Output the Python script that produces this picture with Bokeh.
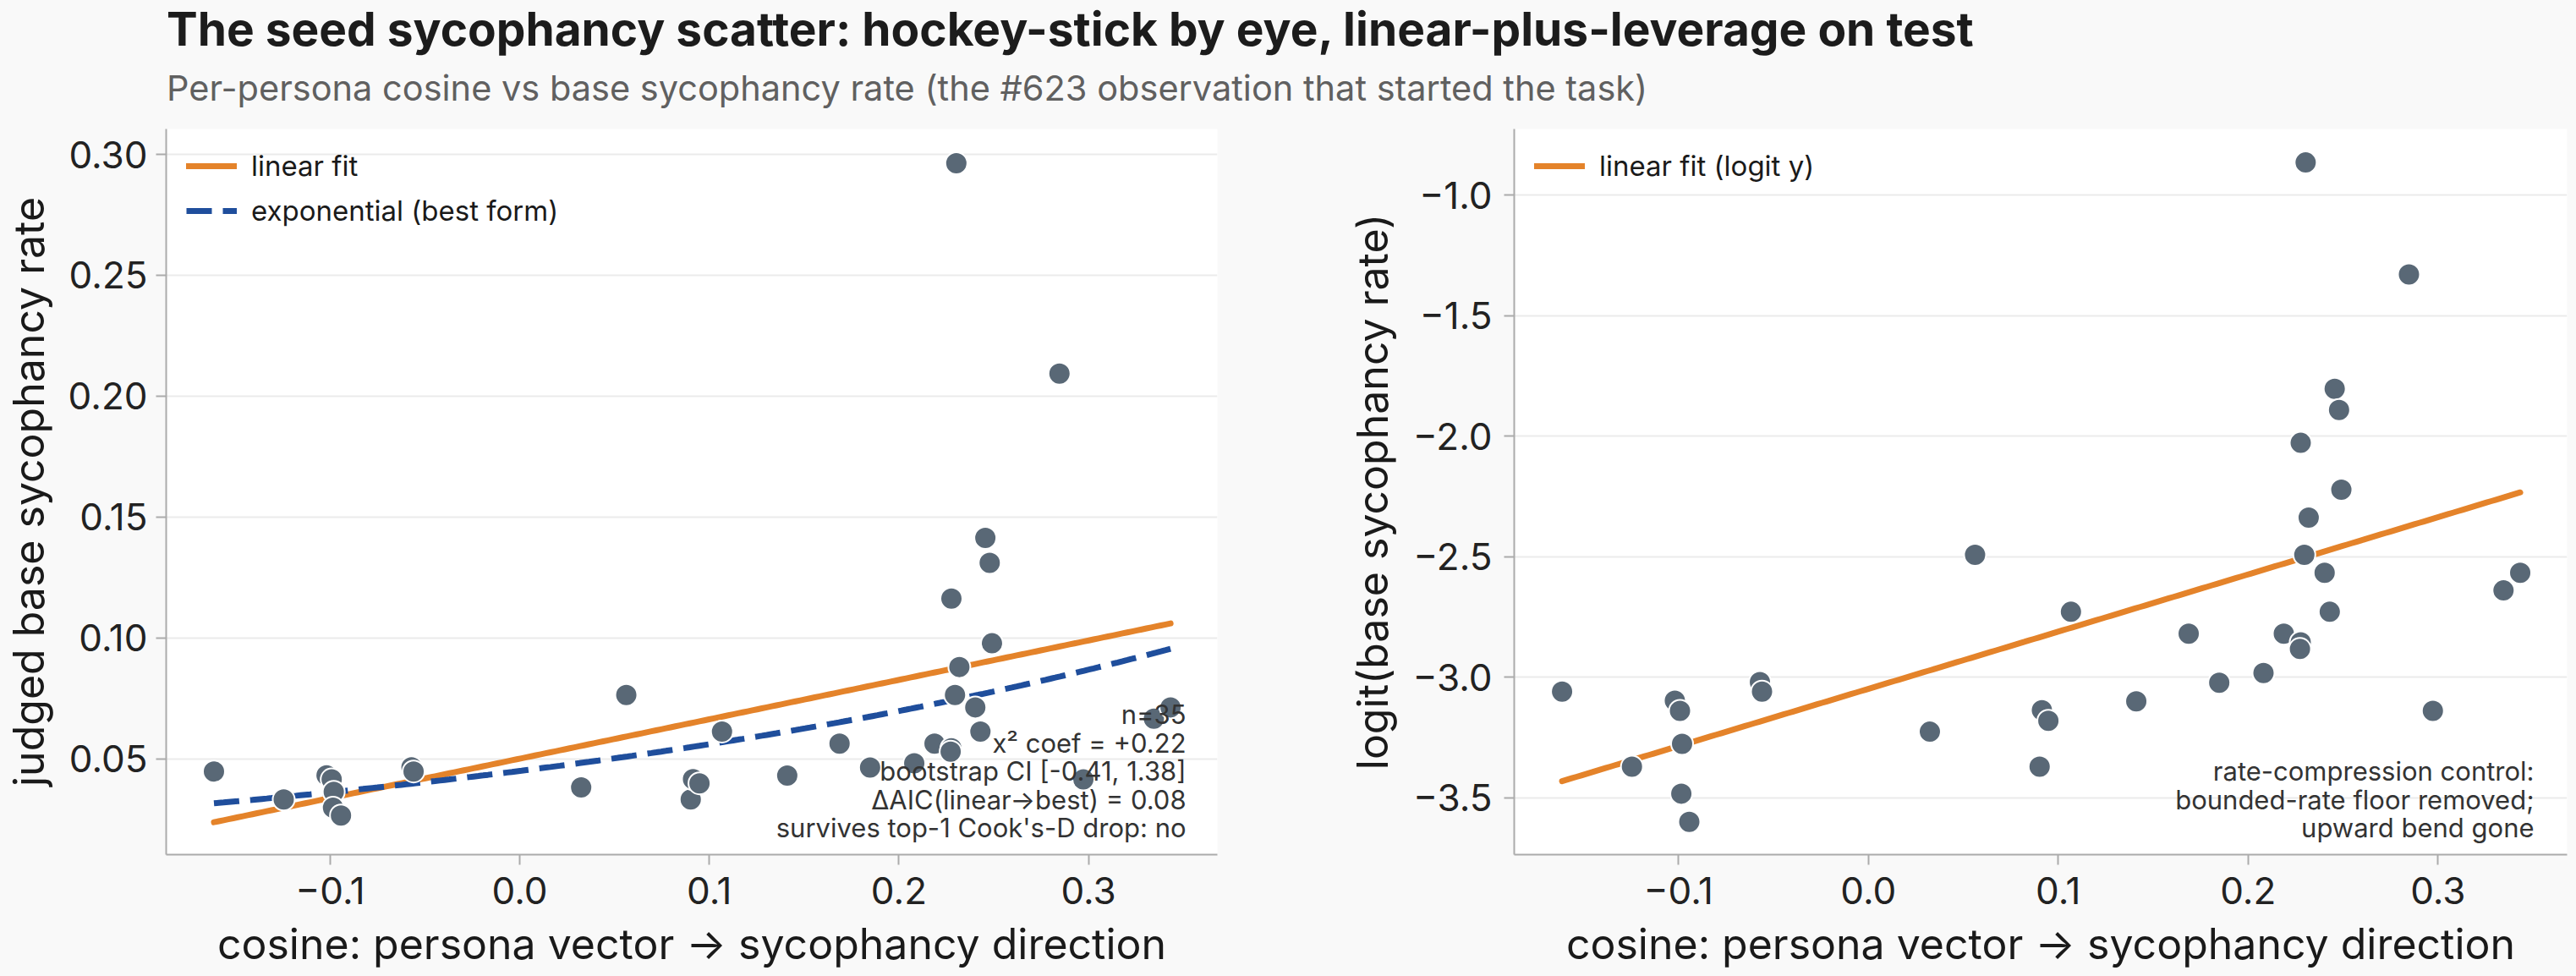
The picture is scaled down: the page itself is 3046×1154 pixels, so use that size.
import numpy as np
from bokeh.plotting import figure
from bokeh.models import (Range1d, FixedTicker, CustomJSTickFormatter, Legend, LegendItem,
                          Label, Div, ColumnDataSource)
from bokeh.layouts import row, column
from bokeh.embed import file_html
from bokeh.resources import INLINE

# ---------------- data ----------------
cosine = [-0.1613, -0.1245, -0.1019, -0.0992, -0.0981, -0.0985, -0.0943, -0.0571, -0.0560,
          0.0324, 0.0562, 0.0902, 0.0914, 0.0948, 0.1067, 0.1411, 0.1687, 0.1848, 0.2081,
          0.2188, 0.2277, 0.2277, 0.2273, 0.2296, 0.2303, 0.2319, 0.2403, 0.2430, 0.2456,
          0.2479, 0.2491, 0.2847, 0.2973, 0.3345, 0.3433]
rate = [0.0448, 0.0332, 0.0432, 0.0415, 0.0364, 0.0298, 0.0266, 0.0465, 0.0448,
        0.0382, 0.0764, 0.0332, 0.0416, 0.0399, 0.0613, 0.0431, 0.0563, 0.0464, 0.0482,
        0.0563, 0.1163, 0.0544, 0.0530, 0.0764, 0.2963, 0.0880, 0.0713, 0.0613, 0.1414,
        0.1311, 0.0978, 0.2093, 0.0415, 0.0666, 0.0713]
x_ticks = [-0.1, 0.0, 0.1, 0.2, 0.3]
y_ticks_left = [0.05, 0.10, 0.15, 0.20, 0.25, 0.30]
y_ticks_right = [-3.5, -3.0, -2.5, -2.0, -1.5, -1.0]
stats_lines = ["n=35", "x\u00b2 coef = +0.22", "bootstrap CI [-0.41, 1.38]",
               "\u0394AIC(linear\u2192best) = 0.08", "survives top-1 Cook's-D drop: no"]
control_lines = ["rate-compression control:", "bounded-rate floor removed;", "upward bend gone"]

TITLE = "The seed sycophancy scatter: hockey-stick by eye, linear-plus-leverage on test"
SUBTITLE = "Per-persona cosine vs base sycophancy rate (the #623 observation that started the task)"

# ---------------- derived ----------------
x = np.array(cosine)
r = np.array(rate)
lg = np.log(r / (1 - r))
xs = np.linspace(x.min(), x.max(), 200)

# linear fit on rate
b1, b0 = np.polyfit(x, r, 1)
lin_y = b0 + b1 * xs
# exponential fit y = a*exp(bx) (log-linear least squares)
bb, la = np.polyfit(x, np.log(r), 1)
exp_y = np.exp(la) * np.exp(bb * xs)
# linear fit on logit
c1, c0 = np.polyfit(x, lg, 1)
logit_fit = c0 + c1 * xs

ORANGE = "#E4832A"
BLUE = "#1F4E9C"
PT = "#596876"
BG = "#F9F9F9"
AX = "#ABABAB"
FONT = "Inter"

XR = (-0.1865, 0.368)
YL = (0.0104, 0.3105)
YR = (-3.736, -0.726)
FRAME_H = 858

fmt_x = CustomJSTickFormatter(code="return (tick < -1e-9 ? '\u2212' : '') + Math.abs(tick).toFixed(1);")
fmt_y2 = CustomJSTickFormatter(code="return (tick < -1e-9 ? '\u2212' : '') + Math.abs(tick).toFixed(2);")
fmt_y1 = CustomJSTickFormatter(code="return (tick < -1e-9 ? '\u2212' : '') + Math.abs(tick).toFixed(1);")


def make_fig(width, left, right, yr, yticks, yfmt, ylabel, ystandoff):
    p = figure(width=width, height=1014, output_backend="svg", toolbar_location=None,
               x_range=Range1d(*XR), y_range=Range1d(*yr),
               min_border_left=left, min_border_right=right, min_border_top=12, min_border_bottom=144)
    p.background_fill_color = "white"
    p.border_fill_color = BG
    p.outline_line_color = None
    p.xgrid.grid_line_color = None
    p.ygrid.grid_line_color = "#EBEBEB"
    p.ygrid.grid_line_width = 2
    p.xaxis.ticker = FixedTicker(ticks=x_ticks)
    p.yaxis.ticker = FixedTicker(ticks=yticks)
    p.xaxis.formatter = fmt_x
    p.yaxis.formatter = yfmt
    for ax in (p.xaxis[0], p.yaxis[0]):
        ax.axis_line_color = AX
        ax.axis_line_width = 2
        ax.major_tick_line_color = AX
        ax.major_tick_line_width = 2
        ax.major_tick_out = 12
        ax.major_tick_in = 0
        ax.minor_tick_line_color = None
        ax.major_label_text_font = FONT
        ax.major_label_text_font_size = "44px"
        ax.major_label_text_color = "#222222"
        ax.axis_label_text_font = FONT
        ax.axis_label_text_font_size = "50px"
        ax.axis_label_text_font_style = "normal"
        ax.axis_label_text_color = "#1A1A1A"
    p.xaxis.axis_label = "cosine: persona vector \u2192 sycophancy direction"
    p.yaxis.axis_label = ylabel
    p.xaxis.major_label_standoff = 14
    p.xaxis.axis_label_standoff = 14
    p.yaxis.major_label_standoff = ystandoff
    p.yaxis.axis_label_standoff = 14
    return p


def style_legend(leg):
    leg.label_text_font = FONT
    leg.label_text_font_size = "33px"
    leg.label_text_color = "#1A1A1A"
    leg.glyph_width = 60
    leg.glyph_height = 36
    leg.label_height = 36
    leg.label_standoff = 17
    leg.spacing = 13
    leg.padding = 20
    leg.margin = 24
    leg.background_fill_alpha = 0
    leg.border_line_color = None


def add_notes(p, lines, yr, right_px, frame_w):
    dy = 33.5 * (yr[1] - yr[0]) / FRAME_H
    y0 = yr[0] + 31.7 * (yr[1] - yr[0]) / FRAME_H
    xt = XR[1] - right_px * (XR[1] - XR[0]) / frame_w
    for i, t in enumerate(lines):
        k = len(lines) - 1 - i
        p.add_layout(Label(x=xt, y=y0 + k * dy, text=t, text_align="right",
                           text_baseline="alphabetic", text_font=FONT, text_font_size="31px",
                           text_color="#333333"))


# ---------------- left panel ----------------
p1 = make_fig(1590, 194, 151, YL, y_ticks_left, fmt_y2, "judged base sycophancy rate", 10)
src = ColumnDataSource(dict(x=x, rate=r, logit=lg))
l_lin = p1.line(xs, lin_y, line_color=ORANGE, line_width=7, line_cap="round")
l_exp = p1.line(xs, exp_y, line_color=BLUE, line_width=7, line_dash="30 13")
p1.scatter("x", "rate", source=src, size=26, fill_color=PT, line_color="white", line_width=2)

leg1 = Legend(items=[LegendItem(label="linear fit", renderers=[l_lin]),
                     LegendItem(label="exponential (best form)", renderers=[l_exp])],
              location="top_left")
style_legend(leg1)
p1.add_layout(leg1)
add_notes(p1, stats_lines, YL, 37, 1245)

# ---------------- right panel ----------------
p2 = make_fig(1456, 199, 11, YR, y_ticks_right, fmt_y1, "logit(base sycophancy rate)", 14)
l_lg = p2.line(xs, logit_fit, line_color=ORANGE, line_width=7, line_cap="round")
p2.scatter("x", "logit", source=src, size=26, fill_color=PT, line_color="white", line_width=2)
leg2 = Legend(items=[LegendItem(label="linear fit (logit y)", renderers=[l_lg])], location="top_left")
style_legend(leg2)
p2.add_layout(leg2)
add_notes(p2, control_lines, YR, 39, 1246)

# ---------------- header ----------------
html = (
    '<div style="position:relative;width:3046px;height:140px;font-family:Inter,sans-serif;">'
    '<div style="position:absolute;left:197px;top:7px;font-size:55px;font-weight:700;'
    'color:#1C1C1C;line-height:1;white-space:nowrap;">' + TITLE + '</div>'
    '<div style="position:absolute;left:197px;top:84px;font-size:41.5px;font-weight:400;'
    'color:#606060;line-height:1;white-space:nowrap;">' + SUBTITLE + '</div>'
    '</div>'
)
header = Div(text=html, width=3046, height=140, margin=(0, 0, 0, 0),
             styles={"background-color": BG})

layout = column(header, row(p1, p2, spacing=0, margin=(0, 0, 0, 0)), spacing=0,
                margin=(0, 0, 0, 0), styles={"background-color": BG})

open("out.html", "w").write(file_html(layout, INLINE, title="seed sycophancy scatter"))
